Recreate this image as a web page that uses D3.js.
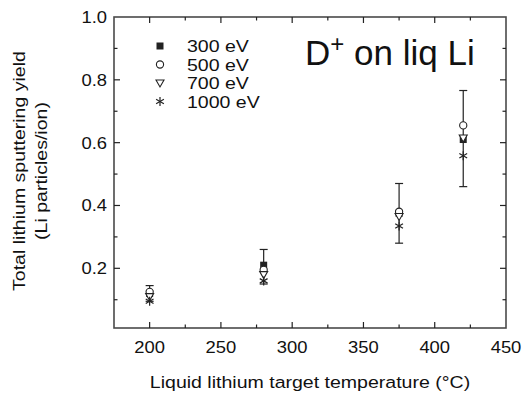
<!DOCTYPE html>
<html>
<head>
<meta charset="utf-8">
<script src="https://cdn.jsdelivr.net/npm/d3@7/dist/d3.min.js"></script>
<style>
  html, body { margin: 0; padding: 0; background: #fff; }
  svg { display: block; font-family: Arial, "Liberation Sans", sans-serif; }
</style>
</head>
<body>
<svg id="chart" width="522" height="396"></svg>
<script>
// Target temperatures (°C)
const temperatures = [200, 280, 375, 420];
// Sputtering yield per ion energy
const yield300 = [0.12, 0.21, 0.375, 0.61];
const yield500 = [0.125, 0.195, 0.38, 0.655];
const yield700 = [0.11, 0.18, 0.365, 0.615];
const yield1000 = [0.095, 0.16, 0.335, 0.558];
// Error bar bounds
const errLow = [0.095, 0.15, 0.28, 0.46];
const errHigh = [0.145, 0.26, 0.47, 0.766];
// Tick labels
const xTicks = [200, 250, 300, 350, 400, 450];
const yTicks = [0.2, 0.4, 0.6, 0.8, 1.0];
const seriesNames = ["300 eV", "500 eV", "700 eV", "1000 eV"];

const svg = d3.select("#chart");
const m = { left: 114, right: 506, top: 17, bottom: 328 };
const x = d3.scaleLinear().domain([175, 450]).range([m.left, m.right]);
const y = d3.scaleLinear().domain([0.01, 1.0]).range([m.bottom, m.top]);
const axisColor = "#4a4a4a";
const SX = 1.15; // horizontal widening of the sans-serif lettering

// Text placed at (tx, ty) and widened horizontally
function wideText(parent, tx, ty, str, size, anchor, rot) {
  const t = parent.append("text")
    .attr("transform", `translate(${tx},${ty})${rot ? ` rotate(${rot})` : ""} scale(${SX},1)`)
    .attr("text-anchor", anchor).attr("font-size", size).attr("fill", "#111");
  if (str !== null) t.text(str);
  return t;
}

// Frame
svg.append("rect")
  .attr("x", m.left).attr("y", m.top)
  .attr("width", m.right - m.left).attr("height", m.bottom - m.top)
  .attr("fill", "none").attr("stroke", axisColor).attr("stroke-width", 1.6);

// Inward ticks on all four sides
const xMinor = d3.range(175, 451, 25);
const yMinor = d3.range(0.1, 1.0001, 0.1).map(v => +v.toFixed(2));
function tickLines(vals, horizontal) {
  vals.forEach(v => {
    const major = horizontal ? xTicks.includes(v) : yTicks.some(t => Math.abs(t - v) < 1e-6);
    const L = major ? 6 : 3.5;
    if (horizontal) {
      const px = x(v);
      svg.append("line").attr("x1", px).attr("x2", px).attr("y1", m.bottom).attr("y2", m.bottom - L)
        .attr("stroke", "#222").attr("stroke-width", 1.2);
      svg.append("line").attr("x1", px).attr("x2", px).attr("y1", m.top).attr("y2", m.top + L)
        .attr("stroke", "#222").attr("stroke-width", 1.2);
    } else {
      const py = y(v);
      svg.append("line").attr("x1", m.left).attr("x2", m.left + L).attr("y1", py).attr("y2", py)
        .attr("stroke", "#222").attr("stroke-width", 1.2);
      svg.append("line").attr("x1", m.right).attr("x2", m.right - L).attr("y1", py).attr("y2", py)
        .attr("stroke", "#222").attr("stroke-width", 1.2);
    }
  });
}
tickLines(xMinor.filter(v => v > 175 && v < 450), true);
tickLines(yMinor.filter(v => v > 0.01 && v < 1.0), false);

// Tick labels
xTicks.forEach(d => wideText(svg, x(d), 353, String(d), 16, "middle"));
yTicks.forEach(d => wideText(svg, 107, y(d) + 6, d.toFixed(1), 16, "end"));

// Axis titles
wideText(svg, 310, 388, "Liquid lithium target temperature (°C)", 17, "middle");
const yt = wideText(svg, 25, 171, null, 17, "middle", -90);
yt.append("tspan").attr("x", 0).attr("dy", 0).text("Total lithium sputtering yield");
yt.append("tspan").attr("x", 0).attr("dy", 22).text("(Li particles/ion)");

// Error bars
const barColor = "#222";
temperatures.forEach((t, i) => {
  const px = x(t);
  svg.append("line").attr("x1", px).attr("x2", px).attr("y1", y(errLow[i])).attr("y2", y(errHigh[i]))
    .attr("stroke", barColor).attr("stroke-width", 1.2);
  [errLow[i], errHigh[i]].forEach(v => {
    svg.append("line").attr("x1", px - 4).attr("x2", px + 4).attr("y1", y(v)).attr("y2", y(v))
      .attr("stroke", barColor).attr("stroke-width", 1.2);
  });
});

// Marker drawing functions
const mk = "#222";
function square(g, cx, cy) {
  g.append("rect").attr("x", cx - 3.5).attr("y", cy - 3.5).attr("width", 7).attr("height", 7).attr("fill", mk);
}
function circle(g, cx, cy) {
  g.append("circle").attr("cx", cx).attr("cy", cy).attr("r", 3.6)
    .attr("fill", "#fff").attr("stroke", mk).attr("stroke-width", 1.1);
}
function triangle(g, cx, cy) {
  g.append("path").attr("d", `M${cx - 4},${cy - 3} L${cx + 4},${cy - 3} L${cx},${cy + 4} Z`)
    .attr("fill", "#fff").attr("stroke", mk).attr("stroke-width", 1.1);
}
function asterisk(g, cx, cy) {
  const r = 4.5;
  [90, 30, -30].forEach(a => {
    const rad = a * Math.PI / 180;
    g.append("line")
      .attr("x1", cx - r * Math.cos(rad)).attr("y1", cy - r * Math.sin(rad))
      .attr("x2", cx + r * Math.cos(rad)).attr("y2", cy + r * Math.sin(rad))
      .attr("stroke", mk).attr("stroke-width", 1.2);
  });
}
const series = [
  { vals: yield300, draw: square },
  { vals: yield500, draw: circle },
  { vals: yield700, draw: triangle },
  { vals: yield1000, draw: asterisk }
];
const pts = svg.append("g");
series.forEach(s => {
  s.vals.forEach((v, i) => s.draw(pts, x(temperatures[i]), y(v)));
});

// Legend
const lg = svg.append("g");
series.forEach((s, i) => {
  const ly = 46 + i * 18.5;
  s.draw(lg, 160, ly);
  wideText(lg, 187, ly + 6, seriesNames[i], 17, "start");
});

// In-plot annotation
const ann = svg.append("text").attr("x", 305).attr("y", 65)
  .attr("font-size", 35).attr("fill", "#111");
ann.append("tspan").text("D");
ann.append("tspan").attr("dy", -13).attr("font-size", 24).text("+");
ann.append("tspan").attr("dy", 13).text(" on liq Li");
</script>
</body>
</html>
